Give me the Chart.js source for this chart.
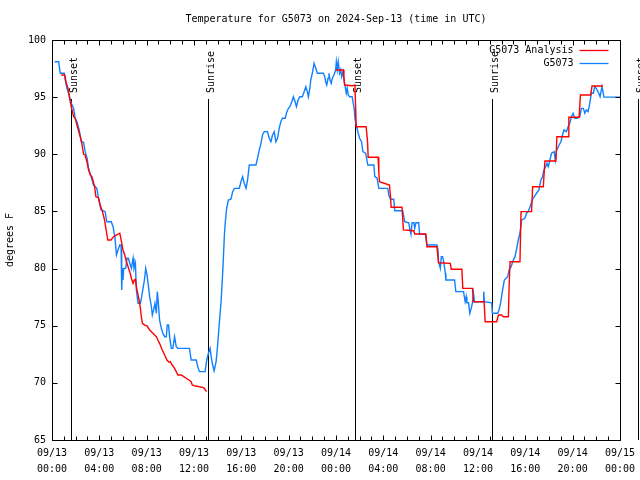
<!DOCTYPE html>
<html>
<head>
<meta charset="utf-8">
<script src="https://cdn.jsdelivr.net/npm/chart.js@4/dist/chart.umd.min.js"></script>
<style>
html,body{margin:0;padding:0;background:#fff;}
#wrap{width:640px;height:480px;}
</style>
</head>
<body>
<div id="wrap"><canvas id="c" width="640" height="480"></canvas></div>
<script>
const chartTitle = 'Temperature for G5073 on 2024-Sep-13 (time in UTC)';
const yAxisTitle = 'degrees F';
const seriesNames = ['G5073 Analysis', 'G5073'];

const xTickDates = ['09/13','09/13','09/13','09/13','09/13','09/13','09/14','09/14','09/14','09/14','09/14','09/14','09/15'];
const xTickTimes = ['00:00','04:00','08:00','12:00','16:00','20:00','00:00','04:00','08:00','12:00','16:00','20:00','00:00'];

// hours since 09/13 00:00 UTC
const sunEventHours = [1.6, 13.22, 25.6, 37.2, 49.5];
const sunEventLabels = ['Sunset', 'Sunrise', 'Sunset', 'Sunrise', 'Sunset'];

const redHours = [0.78,1.07,1.18,1.35,1.46,1.63,1.83,1.96,2.11,2.30,2.47,2.67,2.80,2.95,3.09,3.23,3.37,3.60,3.71,3.93,4.07,4.27,4.44,4.55,4.72,4.99,5.20,5.47,5.73,5.87,6.00,6.15,6.29,6.43,6.57,6.71,6.85,6.96,7.05,7.13,7.27,7.36,7.47,7.55,7.64,7.83,8.03,8.25,8.53,8.82,8.95,9.09,9.32,9.52,9.71,9.88,10.00,10.16,10.36,10.50,10.64,10.92,11.14,11.34,11.56,11.76,11.85,12.04,12.46,12.74,12.88,13.05,
  18.5,
  23.97,24.61,24.67,24.73,25.37,25.60,25.66,25.71,26.55,26.67,26.72,27.56,27.62,27.68,28.52,28.61,28.66,29.58,29.64,29.70,30.57,30.65,31.60,31.69,32.53,32.67,33.66,33.74,34.64,34.72,35.54,35.62,36.52,36.61,37.58,37.73,38.00,38.15,38.57,38.63,38.71,39.55,39.64,40.53,40.62,41.52,41.66,42.59,42.67,43.62,43.68,44.55,44.66,45.53,45.64,46.57];
const redTemps = [96.94,96.94,96.35,95.77,95.04,94.16,93.29,93.15,92.56,91.84,91.25,90.00,89.94,89.35,88.63,88.19,88.04,87.16,86.29,86.20,85.56,84.98,84.25,83.52,82.50,82.50,82.79,82.94,83.09,82.35,81.63,81.19,80.60,80.16,79.73,79.15,78.71,79.00,79.06,78.41,77.69,77.25,76.52,75.79,75.21,75.06,74.98,74.63,74.34,74.04,73.75,73.46,72.88,72.44,72.00,71.80,71.85,71.56,71.27,70.98,70.69,70.69,70.54,70.40,70.25,70.10,69.81,69.75,69.66,69.61,69.52,69.23,
  null,
  97.38,97.38,96.79,96.06,96.00,96.06,94.16,92.41,92.41,91.10,89.74,89.74,88.48,87.60,87.31,86.29,85.36,85.36,84.40,83.38,83.31,83.03,83.03,81.91,81.91,80.51,80.46,79.94,79.94,78.27,78.27,77.10,77.10,75.35,75.35,75.94,75.94,75.79,75.79,78.27,80.60,80.60,84.98,84.98,87.16,87.16,89.41,89.41,91.54,91.54,93.24,93.24,95.19,95.19,95.98,95.98];

const blueHours = [0.23,0.56,0.70,1.04,1.12,1.26,1.41,1.63,1.83,1.96,2.11,2.30,2.47,2.67,2.80,2.97,3.09,3.31,3.51,3.79,3.93,4.15,4.49,4.63,5.01,5.16,5.31,5.45,5.58,5.73,5.84,5.89,5.95,6.00,6.06,6.23,6.34,6.46,6.57,6.71,6.85,6.93,7.05,7.13,7.27,7.47,7.58,7.69,7.81,7.92,8.03,8.14,8.25,8.40,8.48,8.59,8.70,8.82,8.90,8.99,9.09,9.24,9.37,9.52,9.66,9.74,9.85,9.94,10.08,10.21,10.36,10.50,10.64,11.62,11.76,12.19,12.32,12.46,12.94,13.08,13.22,13.36,13.45,13.58,13.70,13.87,14.00,14.15,14.29,14.43,14.57,14.65,14.76,14.91,15.13,15.27,15.41,15.83,15.97,16.11,16.25,16.40,16.53,16.67,17.24,17.37,17.52,17.66,17.79,17.94,18.21,18.36,18.50,18.64,18.78,18.92,19.06,19.20,19.34,19.48,19.71,19.81,19.98,20.10,20.27,20.40,20.55,20.66,20.80,20.94,21.16,21.31,21.45,21.58,21.67,21.79,21.87,22.00,22.15,22.29,22.43,22.93,23.05,23.13,23.22,23.33,23.41,23.49,23.60,23.69,23.83,23.97,24.03,24.11,24.19,24.31,24.40,24.48,24.59,24.67,24.76,24.87,24.95,25.04,25.15,25.37,25.46,25.54,25.60,25.71,25.88,26.00,26.16,26.27,26.50,26.59,26.69,27.20,27.28,27.48,27.62,28.38,28.46,28.61,28.88,28.97,29.64,29.73,29.81,30.15,30.23,30.34,30.43,30.59,30.65,30.76,30.99,31.07,31.55,31.69,32.53,32.62,32.67,32.82,32.90,33.01,33.12,33.24,33.29,34.02,34.13,34.78,34.92,35.01,35.06,35.20,35.31,35.43,35.54,35.62,35.71,36.46,36.49,36.55,37.16,37.22,37.67,37.78,37.92,38.06,38.23,38.51,38.63,38.80,38.99,39.13,39.30,39.41,39.55,39.69,39.97,40.11,40.25,40.40,40.59,40.76,40.95,41.15,41.32,41.46,41.57,41.71,41.83,41.94,42.08,42.22,42.44,42.53,42.64,42.78,42.86,43.01,43.14,43.28,43.48,43.62,43.76,43.90,44.04,44.18,44.40,44.61,44.74,44.91,45.03,45.16,45.31,45.45,45.58,45.75,45.87,46.00,46.21,46.32,46.48,46.65,48.00];
const blueTemps = [98.10,98.10,97.09,97.09,96.50,95.77,95.34,94.46,94.02,93.15,92.85,92.13,91.10,91.05,90.23,89.65,88.78,88.04,87.31,87.02,86.15,85.13,84.98,84.10,84.10,83.66,82.79,81.19,81.63,82.06,82.06,78.13,80.02,79.00,80.02,80.02,80.90,80.90,80.46,80.02,80.90,80.02,80.46,78.13,76.96,76.96,77.54,78.27,79.00,80.02,79.44,78.56,77.54,76.66,75.94,76.38,76.96,76.09,77.98,76.96,75.50,74.77,74.34,74.04,74.04,75.06,75.06,74.04,73.02,73.02,74.04,73.16,73.02,73.02,72.00,72.00,71.41,70.98,70.98,72.00,72.59,73.02,72.29,71.56,71.04,71.85,73.31,75.35,77.10,79.73,82.94,84.10,85.27,86.00,86.09,86.73,87.02,87.02,87.60,88.04,87.46,87.02,87.75,89.06,89.06,89.65,90.38,90.96,91.69,91.98,91.98,91.40,91.10,91.69,91.98,91.10,91.40,92.27,92.85,93.15,93.15,93.59,94.02,94.16,94.60,95.04,94.60,94.16,94.75,95.04,95.04,95.48,95.91,95.48,95.04,95.77,96.50,97.09,97.96,97.52,97.09,97.09,96.79,96.35,96.06,96.65,97.09,96.50,96.21,96.65,96.94,97.38,98.10,97.38,98.10,97.09,97.38,96.79,97.23,96.50,96.06,95.34,95.77,95.19,95.04,95.04,94.46,94.02,93.15,92.56,91.84,91.40,91.10,90.23,90.09,89.65,89.06,89.06,88.04,87.90,87.02,87.02,86.44,86.06,86.06,85.06,85.06,84.54,84.10,84.01,83.52,83.00,84.01,84.01,83.52,84.01,84.01,83.00,83.00,82.06,82.06,81.63,80.60,80.02,81.04,81.04,80.51,79.59,79.00,79.00,77.98,77.98,77.10,77.54,77.01,77.01,76.09,76.52,77.01,77.84,77.10,77.10,77.98,77.10,77.01,76.09,76.09,76.38,77.01,77.98,79.00,79.29,79.88,80.16,80.75,81.04,81.91,82.50,83.09,84.25,84.40,84.84,84.98,85.41,86.00,86.29,86.59,86.88,87.75,88.04,88.63,88.86,89.21,88.91,89.50,90.09,90.23,89.50,90.31,90.66,90.81,91.10,91.69,92.13,91.98,92.41,92.71,93.29,93.59,93.15,93.15,93.29,94.02,94.02,93.59,93.88,93.73,94.46,95.34,95.34,95.91,95.77,95.34,95.04,95.91,95.00,95.00];

const FONT = '"DejaVu Sans Mono", monospace';
const redColor = '#ff0000';
const blueColor = '#1080ff';

function pairs(xs, ys) { return xs.map((x, i) => ({ x: x, y: ys[i] })); }

const framePlugin = {
  id: 'frame',
  beforeDatasetsDraw(chart) {
    const ctx = chart.ctx;
    const xs = chart.scales.x, ys = chart.scales.y;
    const top = Math.round(ys.getPixelForValue(94.85));
    const bottom = chart.chartArea.bottom;
    ctx.save();
    ctx.strokeStyle = '#000';
    ctx.lineWidth = 1;
    ctx.fillStyle = '#000';
    ctx.font = '10px ' + FONT;
    sunEventHours.forEach((h, i) => {
      const px = Math.round(xs.getPixelForValue(h)) + 0.5;
      ctx.beginPath();
      ctx.moveTo(px, top);
      ctx.lineTo(px, bottom);
      ctx.stroke();
      ctx.save();
      ctx.translate(px + 5, top - 6);
      ctx.rotate(-Math.PI / 2);
      ctx.textAlign = 'left';
      ctx.textBaseline = 'alphabetic';
      ctx.fillText(sunEventLabels[i], 0, 0);
      ctx.restore();
    });
    ctx.restore();
  },
  afterDraw(chart) {
    const ctx = chart.ctx;
    const { left, right, top, bottom } = chart.chartArea;
    const xs = chart.scales.x, ys = chart.scales.y;
    ctx.save();
    ctx.strokeStyle = '#000';
    ctx.lineWidth = 1;
    const L = Math.round(left) + 0.5, R = Math.round(right) + 0.5, T = Math.round(top) + 0.5, B = Math.round(bottom) + 0.5;
    ctx.beginPath();
    ctx.rect(L, T, R - L, B - T);
    // y ticks
    for (let v = 65; v <= 100; v += 5) {
      const py = Math.round(ys.getPixelForValue(v)) + 0.5;
      ctx.moveTo(L, py); ctx.lineTo(L + 5, py);
      ctx.moveTo(R, py); ctx.lineTo(R - 5, py);
    }
    // x ticks (hourly)
    for (let h = 0; h <= 48; h += 1) {
      const px = Math.round(xs.getPixelForValue(h)) + 0.5;
      const len = (h % 4 === 0) ? 5 : 4;
      ctx.moveTo(px, B); ctx.lineTo(px, B - len);
      ctx.moveTo(px, T); ctx.lineTo(px, T + len);
    }
    ctx.stroke();

    ctx.fillStyle = '#000';
    ctx.font = '10px ' + FONT;
    // title
    ctx.textAlign = 'center';
    ctx.textBaseline = 'middle';
    ctx.fillText(chartTitle, (left + right) / 2, 19);
    // y axis title
    ctx.save();
    ctx.translate(10, (top + bottom) / 2);
    ctx.rotate(-Math.PI / 2);
    ctx.fillText(yAxisTitle, 0, 0);
    ctx.restore();
    // legend
    const colors = [redColor, blueColor];
    seriesNames.forEach((name, i) => {
      const y = Math.round(top) + 10 + i * 13;
      ctx.textAlign = 'right';
      ctx.fillStyle = '#000';
      ctx.fillText(name, R - 47, y);
      ctx.strokeStyle = colors[i];
      ctx.lineWidth = 1.3;
      ctx.beginPath();
      ctx.moveTo(R - 41, y + 0.5);
      ctx.lineTo(R - 12, y + 0.5);
      ctx.stroke();
    });
    ctx.restore();
  }
};

new Chart(document.getElementById('c'), {
  type: 'line',
  data: {
    datasets: [
      { label: seriesNames[0], data: pairs(redHours, redTemps), borderColor: redColor, backgroundColor: redColor, borderWidth: 1.4, pointRadius: 0, tension: 0, spanGaps: false, fill: false },
      { label: seriesNames[1], data: pairs(blueHours, blueTemps), borderColor: blueColor, backgroundColor: blueColor, borderWidth: 1.4, pointRadius: 0, tension: 0, spanGaps: false, fill: false }
    ]
  },
  options: {
    responsive: false,
    animation: false,
    devicePixelRatio: 1,
    layout: { padding: { top: 40, right: 18, left: 0, bottom: 0 } },
    plugins: { legend: { display: false }, title: { display: false }, tooltip: { enabled: false } },
    scales: {
      x: {
        type: 'linear', min: 0, max: 48,
        grid: { display: false, drawTicks: false },
        border: { display: false },
        afterFit(s) { s.height = 40; },
        afterBuildTicks(s) { s.ticks = xTickDates.map((d, i) => ({ value: i * 4 })); },
        ticks: {
          autoSkip: false, maxRotation: 0, minRotation: 0, padding: 5, color: '#000',
          font: { family: FONT, size: 10, lineHeight: 1.6 },
          callback: (v) => { const i = Math.round(v / 4); return [xTickDates[i], xTickTimes[i]]; }
        }
      },
      y: {
        type: 'linear', min: 65, max: 100,
        grid: { display: false, drawTicks: false },
        border: { display: false },
        afterFit(s) { s.width = 52; },
        ticks: { stepSize: 5, padding: 6, color: '#000', font: { family: FONT, size: 10 } }
      }
    }
  },
  plugins: [framePlugin]
});
</script>
</body>
</html>
